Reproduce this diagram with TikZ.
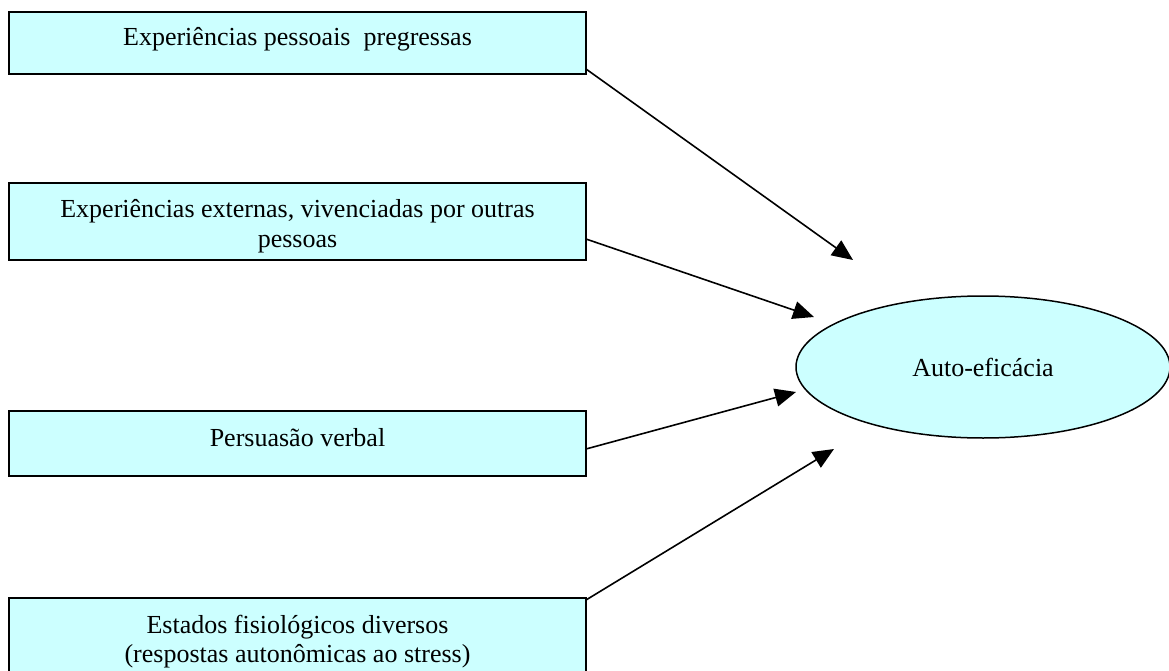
\documentclass[tikz,border=0pt]{standalone}
\usepackage{fontspec}
\setmainfont{Liberation Serif}
\usetikzlibrary{arrows.meta,shapes.geometric}
\definecolor{boxfill}{HTML}{CCFFFF}
\begin{document}
\begin{tikzpicture}[x=1pt,y=-1pt,
  srcbox/.style={draw=black, line width=1.9pt, fill=boxfill, rectangle, inner sep=0pt, outer sep=0pt, minimum width=577pt, anchor=north west},
  lbl/.style={anchor=base, align=center, font=\fontsize{26}{29}\selectfont, inner sep=0pt},
  link/.style={line width=1.6pt, -{Triangle[length=21pt,width=18pt]}}]
\useasboundingbox (0,0) rectangle (1169,671);
\clip (0,0) rectangle (1169,671);
\node[srcbox, minimum height=62pt] (b1) at (9,12) {};
\node[srcbox, minimum height=77pt] (b2) at (9,183) {};
\node[srcbox, minimum height=65pt] (b3) at (9,411) {};
\node[srcbox, minimum height=80pt] (b4) at (9,598) {};
\node[lbl] (t1) at ([yshift=-34pt]b1.north) {Experiências pessoais\ \ pregressas};
\node[lbl] (t2) at ([yshift=-64pt]b2.north) {Experiências externas, vivenciadas por outras\\pessoas};
\node[lbl] (t3) at ([yshift=-35pt]b3.north) {Persuasão verbal};
\node[lbl] (t4) at ([yshift=-64pt]b4.north) {Estados fisiológicos diversos\\(respostas autonômicas ao stress)};
\node[ellipse, draw=black, line width=1.5pt, fill=boxfill, minimum width=374pt, minimum height=142pt, inner sep=0pt, font=\fontsize{26}{29}\selectfont] (ae) at (983,367) {Auto-eficácia};
\coordinate (s1) at ([yshift=5pt]b1.south east);
\coordinate (s2) at ([yshift=21pt]b2.south east);
\coordinate (s3) at ([yshift=27pt]b3.south east);
\coordinate (s4) at ([yshift=-2pt]b4.north east);
\coordinate (e1) at (853,260);
\coordinate (e2) at (814,317);
\coordinate (e3) at (796,392);
\coordinate (e4) at (834,449);
\draw[link] (s1) -- (e1);
\draw[link] (s2) -- (e2);
\draw[link] (s3) -- (e3);
\draw[link] (s4) -- (e4);
\end{tikzpicture}
\end{document}
